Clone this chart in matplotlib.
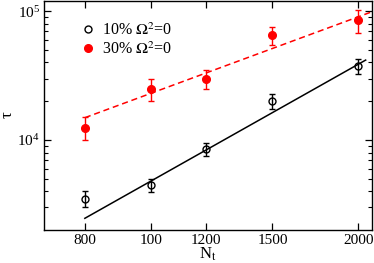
import numpy as np
import matplotlib
matplotlib.use('Agg')
import matplotlib.pyplot as plt
from matplotlib.lines import Line2D
from matplotlib.ticker import FixedLocator, FixedFormatter, NullLocator, LogLocator

# data
nt = [800, 1000, 1200, 1500, 2000]
tick_labels = ['800', '100', '1200', '1500', '2000']

tau10 = [3500, 4480, 8470, 20000, 37500]
err10 = [500, 500, 950, 2600, 5000]
tau30 = [12500, 25000, 30000, 65000, 85000]
err30 = [2500, 5000, 5000, 10000, 17000]

# fitted lines (end points)
fit10_x = [800, 2050]
fit10_y = [2470, 41700]
fit30_x = [800, 2095]
fit30_y = [14900, 99000]

plt.rcParams['font.family'] = ['Liberation Serif', 'DejaVu Serif']
plt.rcParams['mathtext.fontset'] = 'stix'

fig = plt.figure(figsize=(3.74, 2.63), dpi=100)
ax = fig.add_axes([0.118, 0.1255, 0.877, 0.8705])

ax.plot(fit10_x, fit10_y, '-', color='black', lw=1.1)
ax.plot(fit30_x, fit30_y, '--', color='red', lw=1.1, dashes=(4, 2.5))

ax.errorbar(nt, tau10, yerr=err10, fmt='o', mfc='none', mec='black', ms=5,
            mew=1.0, ecolor='black', elinewidth=1.0, capsize=2.5, capthick=1.0)
ax.errorbar(nt, tau30, yerr=err30, fmt='o', mfc='red', mec='red', ms=5.5,
            ecolor='red', elinewidth=1.0, capsize=2.5, capthick=1.0)

ax.set_xscale('log')
ax.set_yscale('log')
ax.set_xlim(698, 2095)
ax.set_ylim(2005, 1.197e5)

ax.xaxis.set_major_locator(FixedLocator(nt))
ax.xaxis.set_major_formatter(FixedFormatter(tick_labels))
ax.xaxis.set_minor_locator(NullLocator())
ax.yaxis.set_major_locator(LogLocator(base=10, numticks=10))
ax.yaxis.set_minor_locator(LogLocator(base=10, subs=np.arange(2, 10), numticks=10))

ax.tick_params(which='both', direction='in', top=True, right=True, labelsize=11)
ax.tick_params(which='major', length=5, width=0.9, pad=3)
ax.tick_params(which='minor', length=3, width=0.8)
for s in ax.spines.values():
    s.set_linewidth(1.0)

ax.set_xlabel(r'N$_\mathrm{t}$', fontsize=12, labelpad=-1)
fig.text(8 / 374, 0.565, 'τ', rotation=90, fontsize=12, ha='center', va='center')

handles = [
    Line2D([], [], ls='none', marker='o', mfc='none', mec='black', ms=5, mew=1.0),
    Line2D([], [], ls='none', marker='o', mfc='red', mec='red', ms=5.5),
]
ax.legend(handles, [r'10% $\Omega^2$=0', r'30% $\Omega^2$=0'],
          loc='upper left', bbox_to_anchor=(0.08, 0.95), frameon=False,
          fontsize=11.5, handletextpad=0.4, borderaxespad=0.2,
          labelspacing=0.15, handlelength=1.0)

fig.savefig('out.png', dpi=100)
